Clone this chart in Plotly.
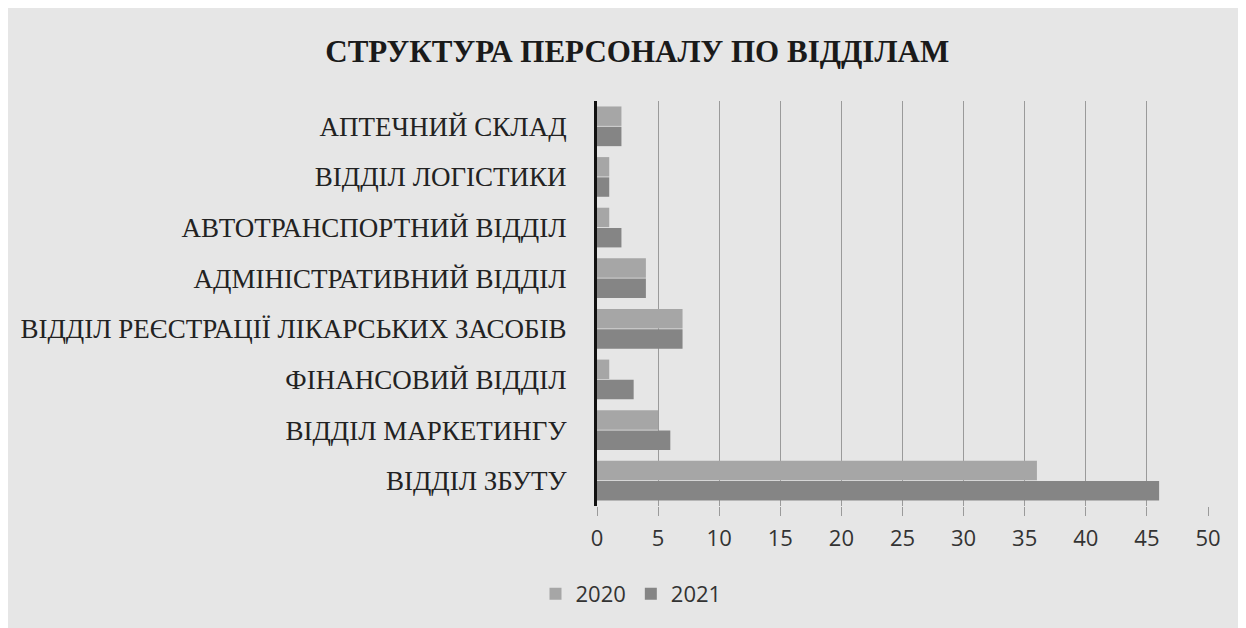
import plotly.graph_objects as go

categories = [
    "АПТЕЧНИЙ СКЛАД",
    "ВІДДІЛ ЛОГІСТИКИ",
    "АВТОТРАНСПОРТНИЙ ВІДДІЛ",
    "АДМІНІСТРАТИВНИЙ ВІДДІЛ",
    "ВІДДІЛ РЕЄСТРАЦІЇ ЛІКАРСЬКИХ ЗАСОБІВ",
    "ФІНАНСОВИЙ ВІДДІЛ",
    "ВІДДІЛ МАРКЕТИНГУ",
    "ВІДДІЛ ЗБУТУ",
]
values_2020 = [2, 1, 1, 4, 7, 1, 5, 36]
values_2021 = [2, 1, 2, 4, 7, 3, 6, 46]
x_ticks = [0, 5, 10, 15, 20, 25, 30, 35, 40, 45, 50]

fig = go.Figure()
fig.add_trace(go.Bar(y=categories, x=values_2020, name="2020", orientation="h",
                     marker=dict(color="#a6a6a6", line=dict(width=0))))
fig.add_trace(go.Bar(y=categories, x=values_2021, name="2021", orientation="h",
                     marker=dict(color="#858585", line=dict(width=0))))

fig.update_layout(
    width=1246, height=628,
    paper_bgcolor="#e6e6e6", plot_bgcolor="#e6e6e6",
    margin=dict(l=589, r=46, t=93, b=130),
    barmode="group", bargap=0.2, bargroupgap=0.04,
    title=dict(text="<b>СТРУКТУРА ПЕРСОНАЛУ ПО ВІДДІЛАМ</b>",
               font=dict(family="Liberation Serif", size=31, color="#1a1a1a"),
               x=0.505, xanchor="center", y=1 - 43 / 628, yanchor="middle"),
    xaxis=dict(range=[0, 50], tickvals=x_ticks, showgrid=True, gridcolor="#9a9a9a",
               gridwidth=1, zeroline=False, ticks="outside", ticklen=9, tickcolor="#9a9a9a",
               ticklabelstandoff=4,
               tickfont=dict(family="Open Sans", size=22, color="#333333")),
    yaxis=dict(categoryorder="array", categoryarray=categories, autorange="reversed",
               showline=True, linecolor="#111111", linewidth=3, ticks="", ticklabelstandoff=22,
               tickfont=dict(family="Liberation Serif", size=27, color="#222222")),
    legend=dict(orientation="h", xref="container", yref="container",
                x=0.5, xanchor="center", y=1 - 586 / 628, yanchor="middle",
                font=dict(family="Open Sans", size=22, color="#333333"),
                itemwidth=30, bgcolor="rgba(0,0,0,0)"),
    showlegend=True,
)

fig.write_html("out.html")
